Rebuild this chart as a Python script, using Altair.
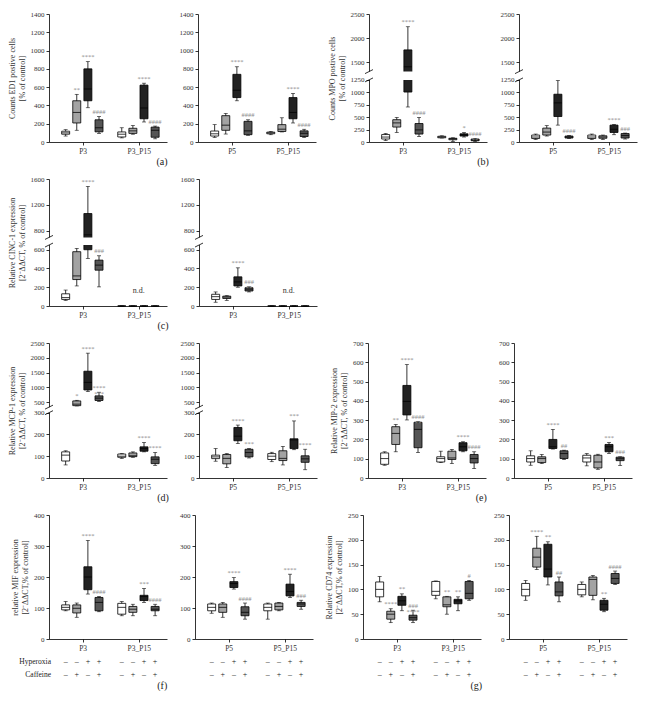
import altair as alt
import pandas as pd

FONT = "Liberation Serif"
GROUPS = ["Control", "Caffeine", "Hyperoxia", "Hyperoxia + Caffeine"]
FILLS = ["#ffffff", "#a3a3a3", "#222222", "#555555"]
POS = [1.1, 2.15, 3.2, 4.25, 6.4, 7.45, 8.5, 9.55]
CENTERS = [2.7, 8.0]
HYPEROXIA = ["–", "–", "+", "+", "–", "–", "+", "+"]
CAFFEINE = ["–", "+", "–", "+", "–", "+", "–", "+"]

# each box: [min, q1, median, q3, max]
ed1_p3 = [[65, 85, 100, 118, 135], [128, 208, 323, 451, 521], [375, 451, 580, 800, 879], [94, 111, 156, 243, 278],
          [45, 55, 85, 110, 156], [85, 94, 122, 150, 180], [219, 254, 372, 622, 643], [35, 52, 128, 163, 174]]
ed1_p3_sig = ["", "**", "****", "####", "", "", "****", "####"]
ed1_p5 = [[50, 65, 90, 120, 190], [87, 128, 184, 288, 313], [451, 486, 566, 740, 823], [73, 80, 122, 226, 243],
          [80, 90, 100, 108, 115], [110, 115, 140, 190, 265], [208, 254, 323, 486, 531], [50, 60, 95, 122, 139]]
ed1_p5_sig = ["", "", "****", "####", "", "", "****", "####"]

mpo_p3 = [[30, 60, 100, 150, 170], [192, 301, 385, 449, 494], [705, 1006, 1401, 1752, 2235], [109, 160, 244, 372, 494],
          [80, 85, 100, 115, 125], [10, 45, 65, 75, 85], [100, 120, 145, 165, 190], [10, 25, 40, 60, 70]]
mpo_p3_sig = ["", "", "****", "####", "", "", "*", "####\n**"]
mpo_p5 = [[50, 70, 100, 140, 160], [120, 140, 200, 280, 330], [340, 513, 788, 962, 1237], [70, 80, 100, 120, 130],
          [50, 70, 100, 140, 160], [50, 75, 100, 125, 140], [147, 192, 256, 340, 352], [60, 80, 130, 170, 180]]
mpo_p5_sig = ["", "", "****", "####", "", "", "****", "###"]

cinc_a = [[60, 70, 90, 130, 170], [214, 282, 321, 579, 614], [507, 600, 740, 1068, 1486], [204, 382, 436, 489, 536],
          [0, 0, 0, 0, 0], [0, 0, 0, 0, 0], [0, 0, 0, 0, 0], [0, 0, 0, 0, 0]]
cinc_a_sig = ["", "*", "****", "###\n*", "", "", "", ""]
cinc_b = [[40, 70, 100, 125, 150], [60, 80, 95, 105, 110], [200, 214, 257, 311, 407], [150, 160, 180, 195, 205],
          [0, 0, 0, 0, 0], [0, 0, 0, 0, 0], [0, 0, 0, 0, 0], [0, 0, 0, 0, 0]]
cinc_b_sig = ["", "", "****", "###\n**", "", "", "", ""]

mcp_p3 = [[60, 78, 105, 120, 125], [370, 380, 430, 540, 560], [856, 911, 1167, 1545, 2156], [522, 555, 633, 711, 833],
          [90, 95, 100, 110, 112], [95, 98, 102, 115, 120], [120, 123, 135, 143, 163], [58, 66, 86, 97, 117]]
mcp_p3_sig = ["", "*", "****", "****\n***", "", "", "****", "****"]
mcp_p5 = [[77, 89, 97, 105, 135], [48, 65, 90, 108, 112], [158, 171, 192, 232, 243], [92, 97, 117, 132, 135],
          [75, 85, 100, 112, 118], [60, 80, 90, 125, 145], [130, 135, 175, 180, 262], [38, 72, 88, 102, 132]]
mcp_p5_sig = ["", "", "****", "***", "", "", "***", "****"]

mip_p3 = [[66, 71, 101, 130, 136], [136, 174, 231, 266, 278], [301, 327, 397, 480, 588], [132, 157, 252, 289, 292],
          [80, 83, 101, 110, 139], [75, 96, 104, 139, 148], [136, 141, 162, 183, 188], [49, 78, 101, 122, 136]]
mip_p3_sig = ["", "**", "****", "####\n**", "", "", "****", "####"]
mip_p5 = [[66, 83, 101, 115, 141], [75, 80, 101, 110, 122], [150, 153, 162, 200, 252], [96, 101, 127, 141, 144],
          [63, 83, 104, 118, 127], [45, 52, 83, 118, 123], [127, 136, 162, 174, 184], [65, 90, 100, 108, 110]]
mip_p5_sig = ["", "", "****", "##", "", "", "***", "###"]

mif_p3 = [[91, 94, 102, 110, 121], [70, 84, 99, 110, 116], [145, 159, 200, 233, 318], [88, 91, 118, 134, 137],
          [75, 80, 102, 115, 121], [75, 86, 96, 105, 112], [118, 124, 137, 141, 163], [75, 91, 96, 105, 112]]
mif_p3_sig = ["", "", "****", "####", "", "", "***", "####"]
mif_p5 = [[83, 91, 102, 113, 116], [70, 86, 102, 113, 118], [161, 166, 179, 185, 198], [64, 75, 86, 104, 116],
          [64, 91, 102, 113, 116], [91, 94, 105, 116, 118], [134, 139, 153, 177, 209], [96, 105, 113, 118, 125]]
mif_p5_sig = ["", "", "****", "####", "", "", "****", "###"]

cd74_p3 = [[75, 85, 100, 115, 126], [33, 40, 50, 56, 61], [57, 68, 77, 86, 91], [33, 38, 43, 48, 58],
           [81, 88, 96, 116, 117], [50, 65, 69, 85, 86], [57, 71, 77, 80, 85], [78, 81, 92, 116, 118]]
cd74_p3_sig = ["", "****", "**", "###\n****", "", "**", "**", "#"]
cd74_p5 = [[78, 87, 100, 112, 118], [140, 145, 165, 183, 207], [109, 125, 141, 191, 196], [75, 87, 95, 115, 125],
           [85, 89, 100, 110, 115], [79, 88, 120, 125, 128], [55, 58, 70, 78, 82], [110, 112, 122, 132, 137]]
cd74_p5_sig = ["", "****", "**", "##", "", "", "**", "####\n*"]

W = 118
SIG_COLOR = "#8c8c8c"
TXT = "#222222"


def panel(boxes, sig, groups, H, top, yvals, ytitle=None, brk=None, nd=None,
          treat=False, treat_labels=False):
    df = pd.DataFrame(boxes, columns=["lo", "q1", "med", "q3", "hi"])
    df["pos"] = POS
    df["grp"] = GROUPS + GROUPS
    df["sig"] = sig
    df["hyp"] = HYPEROXIA
    df["caf"] = CAFFEINE
    if brk:
        b_lo, b_hi, f_lo, f_hi = brk
        dom = [0, b_lo, b_hi, top]
        rng = [H, H * (1 - f_lo), H * (1 - f_hi), 0]
    else:
        dom = [0, top]
        rng = [H, 0]
    ysc = alt.Scale(domain=dom, range=rng, nice=False, zero=False)
    yax = alt.Axis(values=yvals, title=ytitle, format="d")
    xsc = alt.Scale(domain=[0, 10.2], nice=False, zero=False)
    xax = alt.Axis(values=CENTERS, title=None,
                   labelExpr=f"datum.value < 5 ? '{groups[0]}' : '{groups[1]}'")
    X = alt.X("pos:Q", scale=xsc, axis=xax)

    def Y(f):
        return alt.Y(f, type="quantitative", scale=ysc, axis=yax)

    base = alt.Chart(df)
    layers = [
        base.mark_rule(color="black", strokeWidth=0.8).encode(x=X, y=Y("lo"), y2="hi"),
        base.mark_tick(orient="horizontal", size=4, thickness=0.8, color="black").encode(x=X, y=Y("lo")),
        base.mark_tick(orient="horizontal", size=4, thickness=0.8, color="black").encode(x=X, y=Y("hi")),
        base.mark_bar(size=8, stroke="black", strokeWidth=0.8).encode(
            x=X, y=Y("q1"), y2="q3",
            color=alt.Color("grp:N", scale=alt.Scale(domain=GROUPS, range=FILLS), legend=None)),
        base.mark_tick(orient="horizontal", size=8, thickness=1.1, color="black").encode(x=X, y=Y("med")),
        base.mark_text(lineBreak="\n", baseline="bottom", dy=-1.5, fontSize=6.5, lineHeight=6,
                       fill=SIG_COLOR, font=FONT).encode(x=X, y=Y("hi"), text="sig:N"),
    ]
    if brk:
        b_lo, b_hi, f_lo, f_hi = brk
        ppl = f_lo * H / b_lo
        ppg = (f_hi - f_lo) * H / (b_hi - b_lo)
        ppu = (1 - f_hi) * H / (top - b_hi)
        band = pd.DataFrame({"a": [b_lo], "b": [b_hi]})
        layers.append(alt.Chart(band).mark_rect(color="white").encode(
            x=alt.value(-3), x2=alt.value(W + 1), y=Y("a"), y2="b"))
        sl = pd.DataFrame({"y1": [b_lo - 2 / ppl, b_hi - 2 / ppg], "y2": [b_lo + 2 / ppg, b_hi + 2 / ppu]})
        layers.append(alt.Chart(sl).mark_rule(color="black", strokeWidth=0.8).encode(
            x=alt.value(-4), x2=alt.value(4), y=Y("y1"), y2="y2"))
    if nd is not None:
        ndf = pd.DataFrame({"pos": [CENTERS[1]], "y": [nd], "t": ["n.d."]})
        layers.append(alt.Chart(ndf).mark_text(font=FONT, fontSize=8, fill="#333333", baseline="bottom")
                      .encode(x=X, y=Y("y"), text="t:N"))
    if treat:
        layers.append(base.mark_text(font=FONT, fontSize=8, fill=TXT)
                      .encode(x=X, y=alt.value(H + 23), text="hyp:N"))
        layers.append(base.mark_text(font=FONT, fontSize=8, fill=TXT)
                      .encode(x=X, y=alt.value(H + 36), text="caf:N"))
    if treat_labels:
        lab = pd.DataFrame({"t": ["Hyperoxia", "Caffeine"], "r": [0, 1]})
        layers.append(alt.Chart(lab).transform_filter("datum.r == 0").mark_text(
            font=FONT, fontSize=7.5, align="right", fill=TXT).encode(
            x=alt.value(2), y=alt.value(H + 23), text="t:N"))
        layers.append(alt.Chart(lab).transform_filter("datum.r == 1").mark_text(
            font=FONT, fontSize=7.5, align="right", fill=TXT).encode(
            x=alt.value(2), y=alt.value(H + 36), text="t:N"))
    return alt.layer(*layers).properties(width=W, height=H)


def pair(left, right, label):
    return alt.hconcat(left, right, spacing=12,
                       title=alt.TitleParams(label, orient="bottom", anchor="middle", offset=2,
                                             fontSize=10, font=FONT, fontWeight="normal", color="#222"))


T_PCT = ["Counts ED1 postive cells", "[% of control]"]
T_MPO = ["Counts MPO postive cells", "[% of control]"]
T_CINC = ["Relative CINC-1 expression", "[2⁻ΔΔCT, % of control]"]
T_MCP = ["Relative MCP-1 expression", "[2⁻ΔΔCT, % of control]"]
T_MIP = ["Relative MIP-2 expression", "[2⁻ΔΔCT, % of control]"]
T_MIF = ["relative MIF expression", "[2⁻ΔΔCT,% of control]"]
T_CD74 = ["Relative CD74 expression", "[2⁻ΔΔCT,% of control]"]

G3 = ["P3", "P3_P15"]
G5 = ["P5", "P5_P15"]
Y_ED1 = [0, 200, 400, 600, 800, 1000, 1200, 1400]
Y_MPO = [0, 250, 500, 750, 1000, 1250, 1500, 2000, 2500]
Y_CINC = [0, 200, 400, 600, 800, 1200, 1600]
Y_MCP = [0, 100, 200, 300, 500, 1000, 1500, 2000, 2500]
Y_MIP = [0, 100, 200, 300, 400, 500, 600, 700]
Y_MIF = [0, 100, 200, 300, 400]
Y_CD74 = [0, 50, 100, 150, 200, 250]

H1, H2, H3, H4 = 128, 127, 135, 124
BRK_MPO = (1250, 1300, 0.485, 0.55)
BRK_CINC = (650, 700, 0.48, 0.54)
BRK_MCP = (300, 330, 0.484, 0.525)

row1 = alt.hconcat(
    pair(panel(ed1_p3, ed1_p3_sig, G3, H1, 1400, Y_ED1, T_PCT),
         panel(ed1_p5, ed1_p5_sig, G5, H1, 1400, Y_ED1), "(a)"),
    pair(panel(mpo_p3, mpo_p3_sig, G3, H1, 2500, Y_MPO, T_MPO, brk=BRK_MPO),
         panel(mpo_p5, mpo_p5_sig, G5, H1, 2500, Y_MPO, brk=BRK_MPO), "(b)"),
    spacing=12)
row2 = pair(panel(cinc_a, cinc_a_sig, G3, H2, 1600, Y_CINC, T_CINC, brk=BRK_CINC, nd=120),
            panel(cinc_b, cinc_b_sig, G3, H2, 1600, Y_CINC, brk=BRK_CINC, nd=120), "(c)")
row3 = alt.hconcat(
    pair(panel(mcp_p3, mcp_p3_sig, G3, H3, 2500, Y_MCP, T_MCP, brk=BRK_MCP),
         panel(mcp_p5, mcp_p5_sig, G5, H3, 2500, Y_MCP, brk=BRK_MCP), "(d)"),
    pair(panel(mip_p3, mip_p3_sig, G3, H3, 700, Y_MIP, T_MIP),
         panel(mip_p5, mip_p5_sig, G5, H3, 700, Y_MIP), "(e)"),
    spacing=12)
row4 = alt.hconcat(
    pair(panel(mif_p3, mif_p3_sig, G3, H4, 400, Y_MIF, T_MIF, treat=True, treat_labels=True),
         panel(mif_p5, mif_p5_sig, G5, H4, 400, Y_MIF, treat=True), "(f)"),
    pair(panel(cd74_p3, cd74_p3_sig, G3, H4, 250, Y_CD74, T_CD74, treat=True),
         panel(cd74_p5, cd74_p5_sig, G5, H4, 250, Y_CD74, treat=True), "(g)"),
    spacing=12)

chart = alt.vconcat(row1, row2, row3, row4, spacing=8).properties(
    padding={"left": 0, "top": 2, "right": 0, "bottom": 0}
).configure_view(stroke=None).configure_axis(
    labelFont=FONT, labelFontSize=7, labelColor="#333", labelPadding=2,
    titleFont=FONT, titleFontSize=8, titleFontWeight="normal", titleColor="#333", titlePadding=4,
    tickSize=3, tickColor="black", tickWidth=0.8, domainColor="black", domainWidth=0.8, grid=False
).configure_axisX(labelFontSize=7.5)

chart.save("out.html", embed_options={"renderer": "svg", "actions": False})
